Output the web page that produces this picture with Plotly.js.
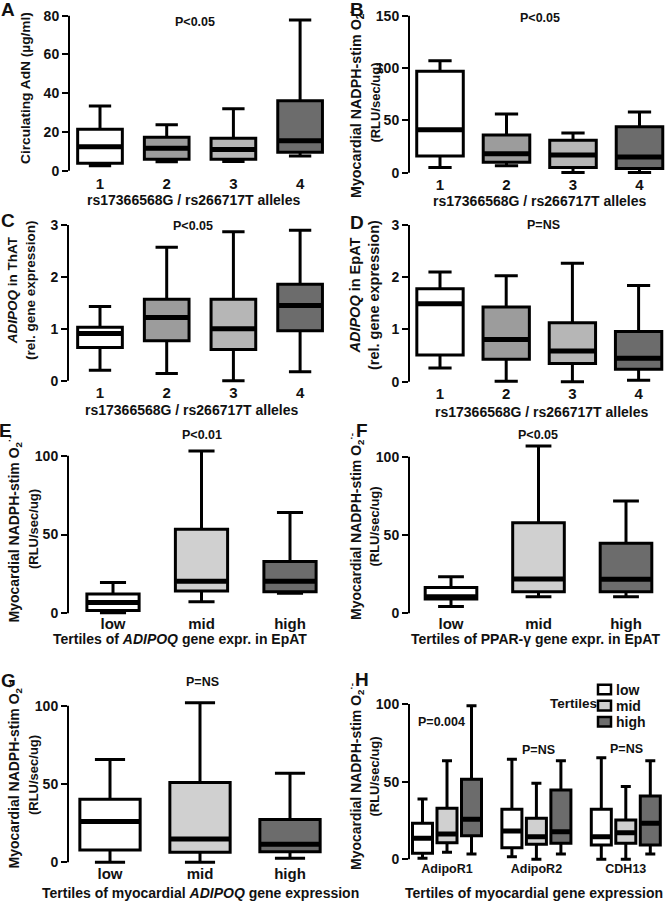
<!DOCTYPE html>
<html>
<head>
<meta charset="utf-8">
<script src="https://cdn.plot.ly/plotly-3.0.1.min.js"></script>
<style>
  body { margin: 0; background: #fff; }
  #fig { width: 666px; height: 906px; }
</style>
</head>
<body>
<div id="fig"></div>
<script>
// ---- data ----
// A: circulating AdN by allele count
const alleleLabels = ['1', '2', '3', '4'];
const aLo  = [2.6, 4.6, 4.8, 7.6];
const aQ1  = [3.8, 5.9, 5.9, 9.5];
const aMed = [12.4, 11.6, 11.0, 15.5];
const aQ3  = [21.4, 17.2, 16.7, 36.1];
const aHi  = [33.4, 23.7, 32.0, 77.8];

// B: myocardial O2- by allele count
const bLo  = [5, 6.7, 0.3, 0.3];
const bQ1  = [16, 10, 5, 4];
const bMed = [41, 18, 17, 15];
const bQ3  = [97, 36, 31, 44];
const bHi  = [107, 56, 38, 58];

// C: ADIPOQ in ThAT
const cLo  = [0.2, 0.14, 0.0, 0.17];
const cQ1  = [0.64, 0.77, 0.6, 0.96];
const cMed = [0.91, 1.22, 1.0, 1.45];
const cQ3  = [1.03, 1.57, 1.57, 1.86];
const cHi  = [1.43, 2.57, 2.87, 2.9];

// D: ADIPOQ in EpAT
const dLo  = [0.26, 0.01, 0.0, 0.03];
const dQ1  = [0.51, 0.43, 0.35, 0.24];
const dMed = [1.49, 0.81, 0.59, 0.45];
const dQ3  = [1.78, 1.43, 1.13, 0.96];
const dHi  = [2.1, 2.03, 2.27, 1.84];

// E, F, G: tertiles
const tertileLabels = ['low', 'mid', 'high'];
const eLo  = [0.4, 7.4, 12.7];
const eQ1  = [1.7, 14.2, 13.7];
const eMed = [6.8, 20.3, 20.3];
const eQ3  = [12.3, 53.3, 32.8];
const eHi  = [19.5, 103, 64];

const fLo  = [4.3, 10.6, 10.6];
const fQ1  = [9.1, 13.8, 13.8];
const fMed = [10.6, 21.9, 21.7];
const fQ3  = [16.4, 57.9, 44.7];
const fHi  = [23.4, 106.8, 71.7];

const gLo  = [0, 0, 2.6];
const gQ1  = [7.9, 6.4, 6.8];
const gMed = [26, 14.9, 11.5];
const gQ3  = [40.2, 50.9, 27.4];
const gHi  = [65.7, 101.9, 56.8];

// H: per tertile, across genes
const hGenes = ['AdipoR1', 'AdipoR2', 'CDH13'];
const hLowLo  = [0.6, 1.7, 0];
const hLowQ1  = [3.9, 7.5, 9.2];
const hLowMed = [13.5, 18.2, 14.6];
const hLowQ3  = [23.2, 32.2, 32.2];
const hLowHi  = [38.8, 64.4, 65.4];
const hMidLo  = [4.5, 0, 0];
const hMidQ1  = [10.7, 9.7, 10.3];
const hMidMed = [16.3, 14.6, 17.1];
const hMidQ3  = [32.8, 26.4, 25.3];
const hMidHi  = [63.5, 48.9, 46.8];
const hHighLo  = [3.4, 3.4, 3.4];
const hHighQ1  = [15.2, 10.3, 9.2];
const hHighMed = [25.8, 17.8, 23.2];
const hHighQ3  = [51.5, 44.6, 40.8];
const hHighHi  = [98.9, 63.5, 63.5];

// ---- styling ----
const W = 666, H = 906;
const FONT = 'Liberation Sans, Arial, sans-serif';
const alleleColors = ['#ffffff', '#9c9c9c', '#b6b6b6', '#6c6c6c'];
const tertileColors = ['#ffffff', '#d0d0d0', '#6c6c6c'];

const px = x => x / W;
const py = y => 1 - y / H;

// x domain/range from pixel positions: axis at left, position 1 at p1, u px per unit
function xAxisFor(left, right, p1, u) {
  return {
    domain: [px(left), px(right)],
    range: [1 - (p1 - left) / u, 1 + (right - p1) / u]
  };
}
// y domain from two reference pixel positions (value v0 at p0, v1 at p1)
function yAxisFor(p0, v0, p1, v1, r0, r1) {
  const s = (p0 - p1) / (v1 - v0);
  const bottom = p0 + (v0 - r0) * s;
  const top = p1 - (r1 - v1) * s;
  return { domain: [py(bottom), py(top)], range: [r0, r1] };
}

const panels = [
  { lo: aLo, q1: aQ1, med: aMed, q3: aQ3, hi: aHi, labels: alleleLabels, colors: alleleColors, w: 0.67,
    x: xAxisFor(69, 333, 100, 66.7), y: yAxisFor(170.7, 0, 15.7, 80, -1.5, 81), ticks: [0, 20, 40, 60, 80], top: 80, so: -1 },
  { lo: bLo, q1: bQ1, med: bMed, q3: bQ3, hi: bHi, labels: alleleLabels, colors: alleleColors, w: 0.7,
    x: xAxisFor(409, 666, 440, 66.5), y: yAxisFor(172.7, 0, 15.7, 150, -2.5, 152), ticks: [0, 50, 100, 150], top: 150, so: -1 },
  { lo: cLo, q1: cQ1, med: cMed, q3: cQ3, hi: cHi, labels: alleleLabels, colors: alleleColors, w: 0.67,
    x: xAxisFor(68, 333, 100, 66.7), y: yAxisFor(380.7, 0, 225, 3, -0.05, 3.03), ticks: [0, 1, 2, 3], top: 3, so: -1 },
  { lo: dLo, q1: dQ1, med: dMed, q3: dQ3, hi: dHi, labels: alleleLabels, colors: alleleColors, w: 0.7,
    x: xAxisFor(409, 666, 440, 66.2), y: yAxisFor(381.7, 0, 225, 3, -0.05, 3.03), ticks: [0, 1, 2, 3], top: 3, so: -1 },
  { lo: eLo, q1: eQ1, med: eMed, q3: eQ3, hi: eHi, labels: tertileLabels, colors: tertileColors, w: 0.59,
    x: xAxisFor(68, 333, 113, 88.5), y: yAxisFor(613.3, 0, 455.7, 100, -1.5, 105), ticks: [0, 50, 100], top: 100, so: -3 },
  { lo: fLo, q1: fQ1, med: fMed, q3: fQ3, hi: fHi, labels: tertileLabels, colors: tertileColors, w: 0.59,
    x: xAxisFor(409, 666, 451, 87.5), y: yAxisFor(613.3, 0, 456.7, 100, -1.5, 109), ticks: [0, 50, 100], top: 100, so: -3 },
  { lo: gLo, q1: gQ1, med: gMed, q3: gQ3, hi: gHi, labels: tertileLabels, colors: tertileColors, w: 0.67,
    x: xAxisFor(68, 333, 110, 90), y: yAxisFor(862.3, 0, 705.7, 100, -1.5, 104), ticks: [0, 50, 100], top: 100, so: -2 }
];

const traces = [];
const layout = {
  width: W, height: H,
  margin: { l: 0, r: 0, t: 0, b: 0 },
  paper_bgcolor: '#fff', plot_bgcolor: 'rgba(0,0,0,0)',
  font: { family: FONT, size: 14, color: '#111', weight: 'bold' },
  showlegend: false,
  shapes: [],
  annotations: []
};

function axisNames(i) {
  const n = i === 0 ? '' : String(i + 1);
  return { xa: 'x' + n, ya: 'y' + n, xk: 'xaxis' + n, yk: 'yaxis' + n };
}

function boxTrace(pos, lo, q1, med, q3, hi, color, w, xa, ya, name) {
  return {
    type: 'box', x: pos, lowerfence: lo, q1: q1, median: med, q3: q3, upperfence: hi,
    width: w, fillcolor: color, line: { color: '#000', width: 3 },
    whiskerwidth: 0.5, boxpoints: false, hoverinfo: 'skip',
    xaxis: xa, yaxis: ya, name: name
  };
}
function medianTrace(pos, med, w, xa, ya) {
  const x = [], y = [];
  pos.forEach((p, k) => { x.push(p - w / 2 + 0.01, p + w / 2 - 0.01, null); y.push(med[k], med[k], null); });
  return { type: 'scatter', mode: 'lines', x: x, y: y, line: { color: '#000', width: 5 },
           xaxis: xa, yaxis: ya, hoverinfo: 'skip' };
}
function setAxes(i, xcfg, ycfg, tickvals, ticktext, yticks, top, xfont, standoff) {
  const a = axisNames(i);
  layout[a.xk] = {
    domain: xcfg.domain, range: xcfg.range, anchor: a.ya,
    showline: false, showgrid: false, zeroline: false, ticks: '',
    tickvals: tickvals, ticktext: ticktext, ticklabelstandoff: standoff || 0,
    tickfont: { family: FONT, size: xfont || 15, weight: 'bold', color: '#111' }, fixedrange: true
  };
  layout[a.yk] = {
    domain: ycfg.domain, range: ycfg.range, anchor: a.xa,
    showline: false, showgrid: false, zeroline: false,
    ticks: 'outside', ticklen: 6, tickwidth: 2, tickcolor: '#000',
    tickvals: yticks, tickfont: { family: FONT, size: 14, weight: 'bold', color: '#111' }, fixedrange: true
  };
  // y axis line from 0 to the top tick
  layout.shapes.push({ type: 'line', xref: a.xa + ' domain', yref: a.ya, x0: 0, x1: 0, y0: 0, y1: top,
                       line: { color: '#000', width: 2 } });
}

panels.forEach((p, i) => {
  const a = axisNames(i);
  const pos = p.labels.map((_, k) => k + 1);
  pos.forEach((x, k) => {
    traces.push(boxTrace([x], [p.lo[k]], [p.q1[k]], [p.med[k]], [p.q3[k]], [p.hi[k]], p.colors[k], p.w, a.xa, a.ya, p.labels[k]));
  });
  traces.push(medianTrace(pos, p.med, p.w, a.xa, a.ya));
  setAxes(i, p.x, p.y, pos, p.labels, p.ticks, p.top, 15, p.so);
});

// H: grouped boxes, one trace per tertile
(function () {
  const i = 7, a = axisNames(i);
  const off = 0.274, w = 0.224;
  const groups = hGenes.map((_, k) => k + 1);
  const sets = [
    [hLowLo, hLowQ1, hLowMed, hLowQ3, hLowHi],
    [hMidLo, hMidQ1, hMidMed, hMidQ3, hMidHi],
    [hHighLo, hHighQ1, hHighMed, hHighQ3, hHighHi]
  ];
  sets.forEach((s, t) => {
    const pos = groups.map(g => g + (t - 1) * off);
    traces.push(boxTrace(pos, s[0], s[1], s[2], s[3], s[4], tertileColors[t], w, a.xa, a.ya, tertileLabels[t]));
  });
  sets.forEach((s, t) => {
    const pos = groups.map(g => g + (t - 1) * off);
    traces.push(medianTrace(pos, s[2], w, a.xa, a.ya));
  });
  setAxes(i, xAxisFor(409, 666, 447, 89.4), yAxisFor(859.3, 0, 704, 100, -2, 101), groups, hGenes, [0, 50, 100], 100, 12.5, -3);
})();

// ---- text ----
function note(x, y, text, size, extra) {
  layout.annotations.push(Object.assign({
    xref: 'paper', yref: 'paper', x: px(x), y: py(y), text: text, showarrow: false,
    xanchor: 'center', yanchor: 'middle',
    font: { family: FONT, size: size, weight: 'bold', color: '#111' }
  }, extra || {}));
}
const o2 = 'Myocardial NADPH-stim O<sub>2</sub><sup>·-</sup><br><span style="font-size:13px">(RLU/sec/ug)</span>';
const alleleTitle = 'rs17366568G / rs266717T alleles';

// panel letters
[['A', 8, 9], ['B', 357, 9], ['C', 8, 220], ['D', 357, 222], ['E', 5, 430], ['F', 362, 430], ['G', 8, 680], ['H', 362, 679]]
  .forEach(l => note(l[1], l[2], l[0], 19));

// y titles
const rot = { textangle: -90 };
note(25, 88, 'Circulating AdN (µg/ml)', 13.7, rot);
note(364, 103, o2, 14.3, rot);
note(21, 290, '<i>ADIPOQ</i> in ThAT<br>(rel. gene expression)', 13.5, rot);
note(364, 295, '<i>ADIPOQ</i> in EpAT<br>(rel. gene expression)', 14.5, rot);
note(22.5, 529, o2, 14, rot);
note(364, 527, o2, 14, rot);
note(22.5, 775, o2, 14, rot);
note(364, 777, o2, 14, rot);

// x titles
note(194, 200, alleleTitle, 14);
note(540, 201, alleleTitle, 14);
note(192, 410, alleleTitle, 14);
note(542, 412, alleleTitle, 14);
note(180, 639, 'Tertiles of <i>ADIPOQ</i> gene expr. in EpAT', 14);
note(535, 639, 'Tertiles of PPAR-γ gene expr. in EpAT', 14);
note(200, 893, 'Tertiles of myocardial <i>ADIPOQ</i> gene expression', 14);
note(534, 893, 'Tertiles of myocardial gene expression', 14);

// p values
note(195, 22, 'P<0.05', 12.5);
note(540, 18, 'P<0.05', 12.5);
note(193, 226, 'P<0.05', 12.5);
note(543, 225, 'P=NS', 12.5);
note(202, 435, 'P<0.01', 12.5);
note(538, 435, 'P<0.05', 12.5);
note(202, 682, 'P=NS', 12.5);
note(441, 722, 'P=0.004', 12.5);
note(538, 750, 'P=NS', 12.5);
note(626, 749, 'P=NS', 12.5);

// legend for panel H: "Tertiles" + swatches
note(573.5, 703, 'Tertiles', 13.5);
tertileLabels.forEach((lab, t) => {
  const cy = 689.5 + 16.1 * t;
  layout.shapes.push({ type: 'rect', xref: 'paper', yref: 'paper',
    x0: px(598), x1: px(611), y0: py(cy + 4.8), y1: py(cy - 4.8),
    fillcolor: tertileColors[t], line: { color: '#000', width: 2.5 } });
  note(614, cy, lab, 14, { xanchor: 'left' });
});

Plotly.newPlot('fig', traces, layout, { staticPlot: true });
</script>
</body>
</html>
